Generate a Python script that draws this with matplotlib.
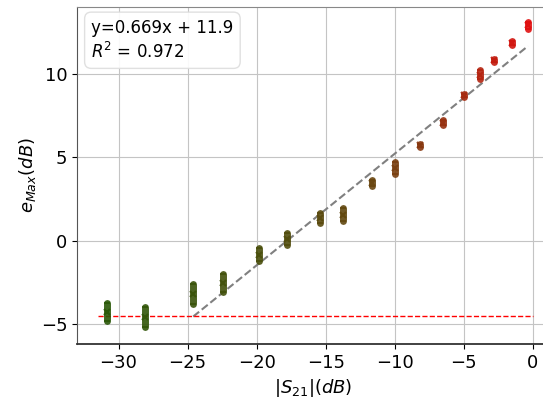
import matplotlib
matplotlib.use("Agg")
import matplotlib.pyplot as plt
import numpy as np
from matplotlib.colors import LinearSegmentedColormap

# data
s21_db = [-30.8, -28.1, -24.6, -22.45, -19.8, -17.8, -15.4, -13.75, -11.65,
          -9.95, -8.15, -6.5, -5.0, -3.8, -2.8, -1.5, -0.35]
emax_db = [-4.3, -4.6, -3.2, -2.55, -0.85, 0.1, 1.35, 1.55, 3.45,
           4.35, 5.7, 7.05, 8.7, 9.95, 10.8, 11.85, 12.9]
emax_err = [0.55, 0.6, 0.6, 0.55, 0.4, 0.35, 0.3, 0.4, 0.2,
            0.35, 0.1, 0.15, 0.1, 0.25, 0.1, 0.1, 0.2]
fit_slope = 0.669
fit_intercept = 11.9
fit_r2 = 0.972
fit_range = [-24.6, -0.35]
floor_level = -4.5
floor_range = [-31.5, 0.0]
xticks = [-30, -25, -20, -15, -10, -5, 0]
yticks = [-5, 0, 5, 10]

fig = plt.figure(figsize=(5.43, 4.0), dpi=100)
ax = fig.add_axes([0.142, 0.14, 0.87, 0.8425])

cmap = LinearSegmentedColormap.from_list("gr", ["#2a5808", "#6a4610", "#e01010"])
n = len(s21_db)
for i, (x, y, e) in enumerate(zip(s21_db, emax_db, emax_err)):
    c = cmap(i / (n - 1))
    cont = ax.errorbar(x, y, yerr=e, fmt='x', color=c, ecolor=c, elinewidth=5,
                       capsize=2.5, markersize=4.5, mew=1.5, alpha=0.9, zorder=3)
    for lc in cont[2]:
        lc.set_capstyle('round')

fx = np.array(fit_range)
ax.plot(fx, fit_slope * fx + fit_intercept, '--', color='grey', lw=1.5, zorder=2)
ax.plot(floor_range, [floor_level, floor_level], '--', color='red', lw=1.0, zorder=2)

ax.text(0.03, 0.965, "y=%.3fx + %.1f\n$R^2$ = %.3f" % (fit_slope, fit_intercept, fit_r2),
        transform=ax.transAxes, fontsize=12, va='top', ha='left', linespacing=1.3,
        bbox=dict(boxstyle='round,pad=0.4', facecolor='white', edgecolor='#dddddd', alpha=0.9))

ax.set_xlim(-33, 1.2)
ax.set_ylim(-6.2, 14.0)
ax.set_xticks(xticks)
ax.set_yticks(yticks)
ax.tick_params(labelsize=13)
ax.grid(True, color='#c4c4c4', lw=0.8)
ax.set_axisbelow(True)
ax.spines['right'].set_visible(False)
ax.spines['top'].set_color('#888888')
ax.spines['left'].set_color('#555555')
ax.spines['bottom'].set_color('#333333')
ax.spines['bottom'].set_linewidth(1.3)
ax.set_xlabel(r"$|S_{21}|(dB)$", fontsize=13)
ax.set_ylabel(r"$e_{Max}(dB)$", fontsize=13, labelpad=2)

fig.savefig("out.png", dpi=100)
